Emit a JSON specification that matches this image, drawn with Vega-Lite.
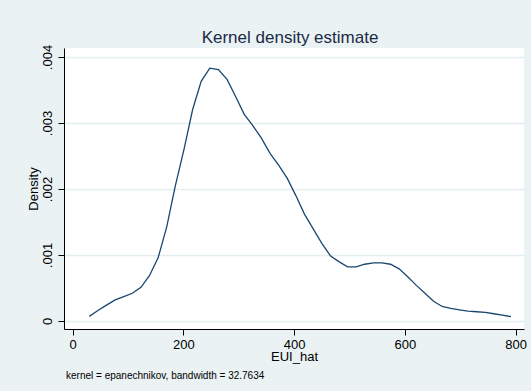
{
  "$schema": "https://vega.github.io/schema/vega-lite/v6.json",
  "background": "#eaf2f3",
  "padding": {"left": 27, "top": 29, "right": 5, "bottom": 11},
  "title": {"text": "Kernel density estimate", "fontSize": 17, "font": "Liberation Sans", "fontWeight": "normal", "color": "#1b2a47", "anchor": "middle", "frame": "group", "baseline": "alphabetic", "offset": -16, "dx": -4},
  "vconcat": [
    {
      "title": {"text": "kernel = epanechnikov, bandwidth = 32.7634", "orient": "bottom", "anchor": "start", "frame": "group", "fontSize": 10, "font": "Liberation Sans", "fontWeight": "normal", "color": "#000000", "offset": 8, "dx": 2},
      "width": 460,
      "height": 281,
      "data": {"values": [
        {"x": 30.0, "density": 0.00007},
        {"x": 45.5, "density": 0.00016},
        {"x": 61.0, "density": 0.00024},
        {"x": 76.7, "density": 0.00032},
        {"x": 92.2, "density": 0.00037},
        {"x": 107.7, "density": 0.00042},
        {"x": 123.3, "density": 0.00051},
        {"x": 138.8, "density": 0.00069},
        {"x": 154.4, "density": 0.00096},
        {"x": 169.9, "density": 0.00143},
        {"x": 185.4, "density": 0.00205},
        {"x": 201.0, "density": 0.0026},
        {"x": 216.5, "density": 0.0032},
        {"x": 232.0, "density": 0.00363},
        {"x": 247.6, "density": 0.00383},
        {"x": 263.1, "density": 0.00381},
        {"x": 278.7, "density": 0.00366},
        {"x": 294.2, "density": 0.0034},
        {"x": 309.8, "density": 0.00313},
        {"x": 325.3, "density": 0.00296},
        {"x": 340.8, "density": 0.00277},
        {"x": 356.4, "density": 0.00254},
        {"x": 371.9, "density": 0.00236},
        {"x": 387.5, "density": 0.00216},
        {"x": 403.0, "density": 0.0019},
        {"x": 418.5, "density": 0.00162},
        {"x": 434.1, "density": 0.0014},
        {"x": 449.6, "density": 0.00118},
        {"x": 465.2, "density": 0.00099},
        {"x": 480.7, "density": 0.0009},
        {"x": 496.3, "density": 0.00082},
        {"x": 511.8, "density": 0.00082},
        {"x": 527.3, "density": 0.00086},
        {"x": 542.9, "density": 0.00088},
        {"x": 558.4, "density": 0.00088},
        {"x": 574.0, "density": 0.00086},
        {"x": 589.5, "density": 0.00079},
        {"x": 605.0, "density": 0.00067},
        {"x": 620.6, "density": 0.00054},
        {"x": 636.1, "density": 0.00042},
        {"x": 651.7, "density": 0.0003},
        {"x": 667.2, "density": 0.00022},
        {"x": 682.7, "density": 0.00019},
        {"x": 698.3, "density": 0.00017},
        {"x": 713.8, "density": 0.00015},
        {"x": 729.4, "density": 0.00014},
        {"x": 744.9, "density": 0.00013},
        {"x": 760.4, "density": 0.00011},
        {"x": 776.0, "density": 0.00009},
        {"x": 791.5, "density": 0.000065}
      ]},
      "mark": {"type": "line", "color": "#1a476f", "strokeWidth": 1.3, "interpolate": "linear"},
      "encoding": {
        "x": {
          "field": "x", "type": "quantitative",
          "scale": {"domain": [-15.7, 815], "nice": false, "zero": false},
          "axis": {
            "title": "EUI_hat", "values": [0, 200, 400, 600, 800], "grid": false,
            "domainColor": "#000000", "domainWidth": 1, "tickColor": "#000000", "tickSize": 6,
            "labelFontSize": 13, "labelFont": "Liberation Sans", "labelColor": "#000000", "labelPadding": 3,
            "titleFontSize": 13, "titleFont": "Liberation Sans", "titleFontWeight": "normal", "titleColor": "#000000", "titlePadding": -1
          }
        },
        "y": {
          "field": "density", "type": "quantitative",
          "scale": {"domain": [-0.000121, 0.004136], "nice": false, "zero": false},
          "axis": {
            "title": "Density", "values": [0, 0.001, 0.002, 0.003, 0.004],
            "labelExpr": "datum.value == 0 ? '0' : replace(format(datum.value, '.3f'), '0.', '.')",
            "grid": true, "gridColor": "#e4edf0", "gridWidth": 1.5,
            "domainColor": "#000000", "domainWidth": 1, "tickColor": "#000000", "tickSize": 6,
            "labelAngle": -90, "labelAlign": "center", "labelBaseline": "bottom",
            "labelFontSize": 13, "labelFont": "Liberation Sans", "labelColor": "#000000", "labelPadding": 4,
            "titleFontSize": 13, "titleFont": "Liberation Sans", "titleFontWeight": "normal", "titleColor": "#000000", "titlePadding": 1
          }
        }
      }
    }
  ],
  "config": {
    "view": {"fill": "#ffffff", "stroke": null},
    "concat": {"spacing": 0}
  }
}
